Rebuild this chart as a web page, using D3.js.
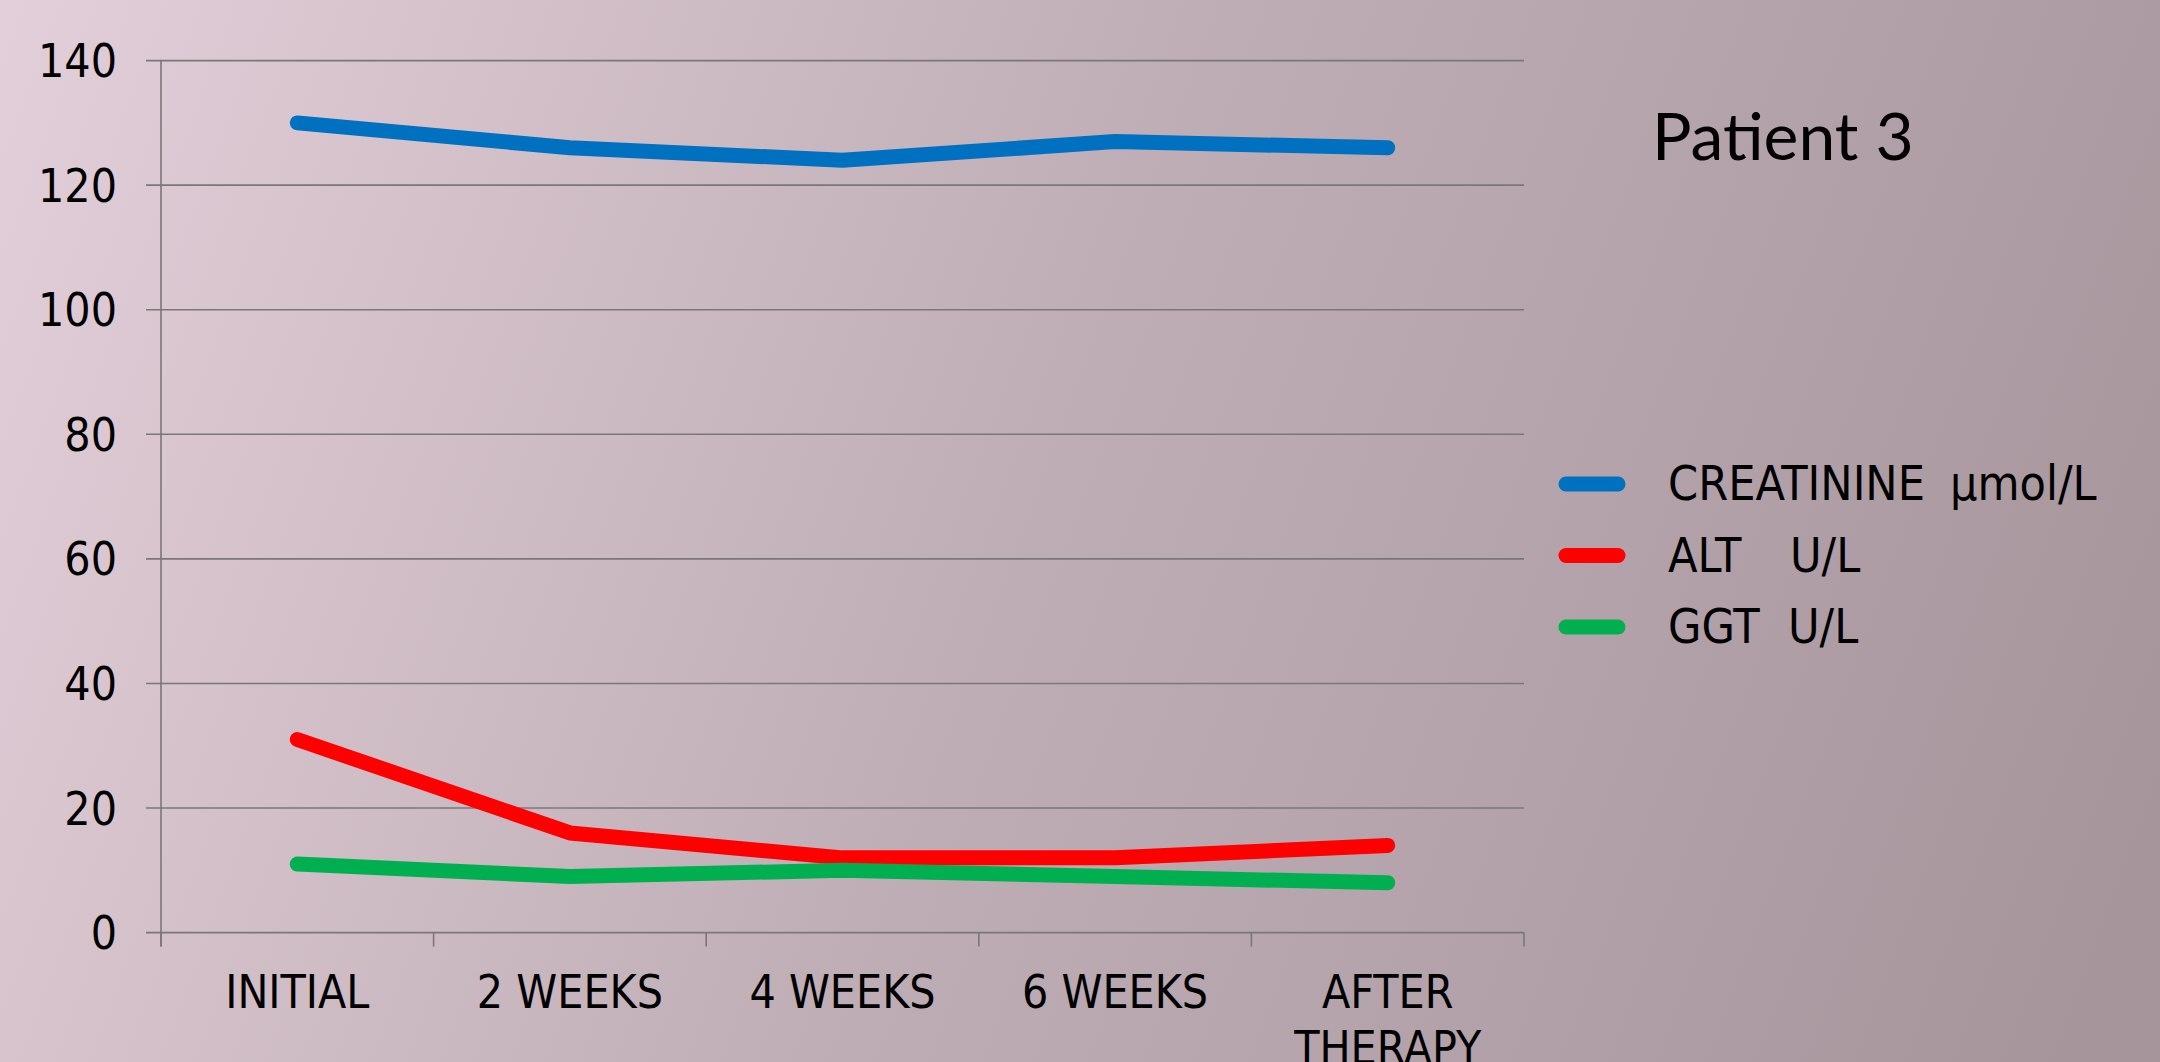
<!DOCTYPE html>
<html><head><meta charset="utf-8">
<script src="https://cdn.jsdelivr.net/npm/d3@7"></script>
<style>html,body{margin:0;padding:0;overflow:hidden;}svg{display:block;}</style>
</head><body>
<svg id="c" width="2160" height="1062"></svg>
<script>
const categories = [["INITIAL"], ["2 WEEKS"], ["4 WEEKS"], ["6 WEEKS"], ["AFTER", "THERAPY"]];
const creatinine = [130, 126, 124, 127, 126];
const alt = [31, 16, 12, 12, 14];
const ggt = [11, 9, 10, 9, 8];
const seriesNames = [["CREATININE", "μmol/L"], ["ALT", "U/L"], ["GGT", "U/L"]];
const seriesColors = ["#0070C0", "#FF0000", "#00B050"];
const yTicks = [0, 20, 40, 60, 80, 100, 120, 140];
const title = "Patient 3";

const svg = d3.select("#c");
const W = 2160, H = 1062;
const defs = svg.append("defs");
const g0 = defs.append("linearGradient").attr("id","bg").attr("gradientUnits","userSpaceOnUse")
  .attr("x1",0).attr("y1",0).attr("x2",2160).attr("y2",800);
g0.append("stop").attr("offset","0").attr("stop-color","#e2cfd9");
g0.append("stop").attr("offset","0.5").attr("stop-color","#bfadb5");
g0.append("stop").attr("offset","1").attr("stop-color","#a6969c");
svg.append("rect").attr("width",W).attr("height",H).attr("fill","url(#bg)");

const font = "'Liberation Sans Narrow','DejaVu Sans Condensed','Roboto Condensed',sans-serif";
const x0 = 161, x1 = 1524, yTop = 60.6, yBot = 932.6;
const x = d3.scaleBand().domain(d3.range(categories.length)).range([x0, x1]);
const y = d3.scaleLinear().domain([0, 140]).range([yBot, yTop]);
const gridColor = "#787878";

// gridlines
svg.append("g").selectAll("line").data(yTicks).join("line")
  .attr("x1", x0 - 15).attr("x2", x1).attr("y1", d => y(d)).attr("y2", d => y(d))
  .attr("stroke", gridColor).attr("stroke-width", 1.6);
// y axis line
svg.append("line").attr("x1", x0).attr("x2", x0).attr("y1", yTop).attr("y2", yBot + 14)
  .attr("stroke", gridColor).attr("stroke-width", 1.6);
// x ticks
const bounds = d3.range(categories.length + 1).map(i => x0 + i * x.step());
svg.append("g").selectAll("line").data(bounds).join("line")
  .attr("x1", d => d).attr("x2", d => d).attr("y1", yBot).attr("y2", yBot + 14)
  .attr("stroke", gridColor).attr("stroke-width", 1.6);

// y labels
svg.append("g").selectAll("text").data(yTicks).join("text")
  .attr("x", 117).attr("y", d => y(d)).attr("dy", "0.36em").attr("text-anchor", "end")
  .attr("font-family", font).attr("font-size", 46).attr("fill", "#000").text(d => d);

// x labels
const xl = svg.append("g").selectAll("text").data(categories).join("text")
  .attr("text-anchor", "middle").attr("font-family", font).attr("font-size", 46).attr("fill", "#000");
xl.each(function(d, i) {
  const t = d3.select(this);
  d.forEach((s, j) => t.append("tspan").attr("x", x(i) + x.bandwidth() / 2).attr("y", 1008 + j * 56).text(s));
});

// lines
const line = d3.line().x((d, i) => x(i) + x.bandwidth() / 2).y(d => y(d));
[creatinine, alt, ggt].forEach((s, k) => {
  svg.append("path").attr("d", line(s)).attr("fill", "none")
    .attr("stroke", seriesColors[k]).attr("stroke-width", 15)
    .attr("stroke-linecap", "round").attr("stroke-linejoin", "round");
});

// legend
const ly = [484, 555.5, 627];
seriesNames.forEach((n, k) => {
  svg.append("line").attr("x1", 1566).attr("x2", 1618).attr("y1", ly[k]).attr("y2", ly[k])
    .attr("stroke", seriesColors[k]).attr("stroke-width", 15).attr("stroke-linecap", "round");
  const unitX = k === 0 ? 1950 : (k === 1 ? 1790 : 1788);
  svg.append("text").attr("x", 1668).attr("y", ly[k] + 16).attr("font-family", font)
    .attr("font-size", 48).attr("fill", "#000").text(n[0]);
  svg.append("text").attr("x", unitX).attr("y", ly[k] + 16).attr("font-family", font)
    .attr("font-size", 48).attr("fill", "#000").text(n[1]);
});

// title
svg.append("text").attr("x", 1652).attr("y", 160).attr("font-family", "Lato, 'Open Sans', sans-serif")
  .attr("font-size", 66).attr("fill", "#000").text(title);
</script>
</body></html>
